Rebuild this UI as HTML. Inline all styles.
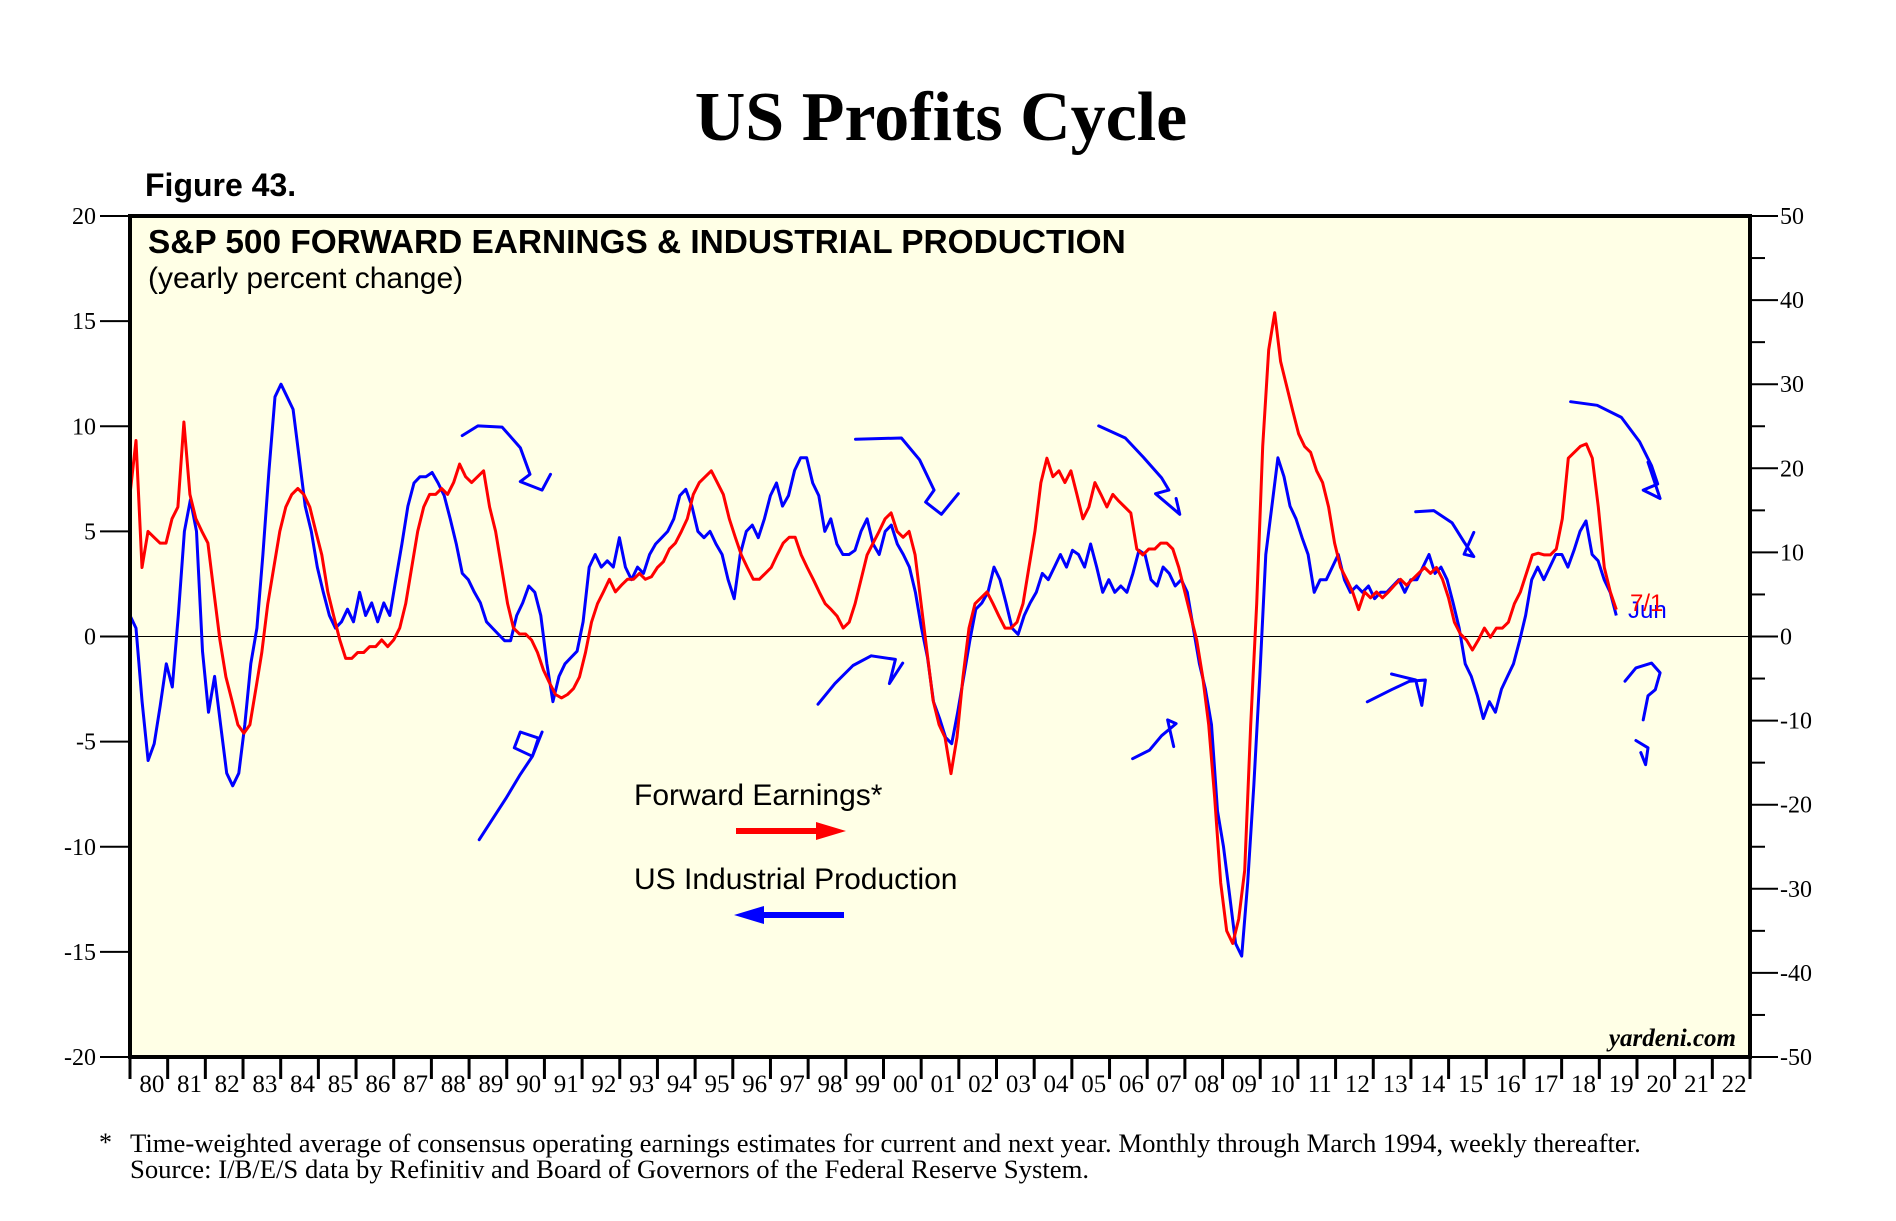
<!DOCTYPE html>
<html><head><meta charset="utf-8"><style>
html,body{margin:0;padding:0;background:#fff;}
svg{display:block;}
</style></head><body>
<svg id="chart" width="1896" height="1221" viewBox="0 0 1896 1221" xmlns="http://www.w3.org/2000/svg">
<text x="941" y="140" text-anchor="middle" font-family="Liberation Serif, serif" font-weight="bold" font-size="70" fill="#000">US Profits Cycle</text>
<text x="145" y="196" font-family="Liberation Sans, sans-serif" font-weight="bold" font-size="32" fill="#000">Figure 43.</text>
<rect x="130" y="216" width="1620" height="841" fill="#ffffe6"/>
<g id="grid"></g>
<g id="series"></g>
<g id="annot" fill="none" stroke="#0000ff" stroke-width="3" stroke-linecap="round" stroke-linejoin="round"></g>
<rect x="130" y="216" width="1620" height="841" fill="none" stroke="#000" stroke-width="4"/>
<g id="axes"></g>
<text x="148" y="253" font-family="Liberation Sans, sans-serif" font-weight="bold" font-size="33.4" fill="#000">S&amp;P 500 FORWARD EARNINGS &amp; INDUSTRIAL PRODUCTION</text>
<text x="148" y="288" font-family="Liberation Sans, sans-serif" font-size="30" fill="#000">(yearly percent change)</text>
<text x="634" y="805" font-family="Liberation Sans, sans-serif" font-size="30" fill="#000">Forward Earnings*</text>
<g><line x1="736" y1="831" x2="820" y2="831" stroke="#ff0000" stroke-width="6"/><polygon points="816,822 846,831 816,840" fill="#ff0000"/></g>
<text x="634" y="889" font-family="Liberation Sans, sans-serif" font-size="30" fill="#000">US Industrial Production</text>
<g><line x1="760" y1="915" x2="844" y2="915" stroke="#0000ff" stroke-width="6"/><polygon points="764,906 734,915 764,924" fill="#0000ff"/></g>
<text x="1736" y="1046" text-anchor="end" font-family="Liberation Serif, serif" font-style="italic" font-weight="bold" font-size="25" fill="#000">yardeni.com</text>
<text x="1628" y="618" font-family="Liberation Sans, sans-serif" font-size="24" fill="#0000ff">Jun</text>
<text x="1630" y="611" font-family="Liberation Sans, sans-serif" font-size="24" fill="#ff0000">7/1</text>
<text x="99" y="1151" font-family="Liberation Serif, serif" font-size="26" fill="#000">*</text>
<text x="130" y="1152" font-family="Liberation Serif, serif" font-size="26.7" fill="#000">Time-weighted average of consensus operating earnings estimates for current and next year. Monthly through March 1994, weekly thereafter.</text>
<text x="130" y="1178" font-family="Liberation Serif, serif" font-size="26.7" fill="#000">Source: I/B/E/S data by Refinitiv and Board of Governors of the Federal Reserve System.</text>
</svg>
<script>
const xStartYear = 1980, xEndYear = 2023;
const leftTicks = [20,15,10,5,0,-5,-10,-15,-20];
const rightTicks = [50,40,30,20,10,0,-10,-20,-30,-40,-50];
const yearLabels = ['80','81','82','83','84','85','86','87','88','89','90','91','92','93','94','95','96','97','98','99','00','01','02','03','04','05','06','07','08','09','10','11','12','13','14','15','16','17','18','19','20','21','22'];
const seriesStart = 1980.0, seriesEnd = 2019.45;
const ipValues = [1.0,0.4,-3.1,-5.9,-5.1,-3.3,-1.3,-2.4,1.0,5.0,6.5,5.0,-0.7,-3.6,-1.9,-4.2,-6.5,-7.1,-6.5,-4.2,-1.3,0.4,3.9,7.9,11.4,12.0,11.4,10.8,8.5,6.2,5.0,3.3,2.1,1.0,0.4,0.7,1.3,0.7,2.1,1.0,1.6,0.7,1.6,1.0,2.7,4.4,6.2,7.3,7.6,7.6,7.8,7.3,6.7,5.6,4.4,3.0,2.7,2.1,1.6,0.7,0.4,0.1,-0.2,-0.2,1.0,1.6,2.4,2.1,1.0,-1.3,-3.1,-1.9,-1.3,-1.0,-0.7,0.7,3.3,3.9,3.3,3.6,3.3,4.7,3.3,2.7,3.3,3.0,3.9,4.4,4.7,5.0,5.6,6.7,7.0,6.2,5.0,4.7,5.0,4.4,3.9,2.7,1.8,3.9,5.0,5.3,4.7,5.6,6.7,7.3,6.2,6.7,7.9,8.5,8.5,7.3,6.7,5.0,5.6,4.4,3.9,3.9,4.1,5.0,5.6,4.4,3.9,5.0,5.3,4.4,3.9,3.3,2.1,0.4,-1.0,-3.1,-3.9,-4.8,-5.1,-3.6,-1.9,-0.2,1.3,1.6,2.1,3.3,2.7,1.6,0.4,0.1,1.0,1.6,2.1,3.0,2.7,3.3,3.9,3.3,4.1,3.9,3.3,4.4,3.3,2.1,2.7,2.1,2.4,2.1,3.0,4.1,3.9,2.7,2.4,3.3,3.0,2.4,2.7,2.1,0.4,-1.3,-2.5,-4.2,-8.3,-10.0,-12.3,-14.6,-15.2,-11.7,-7.1,-1.9,3.9,6.2,8.5,7.6,6.2,5.6,4.7,3.9,2.1,2.7,2.7,3.3,3.9,2.7,2.1,2.4,2.1,2.4,1.8,2.1,2.1,2.4,2.7,2.1,2.7,2.7,3.3,3.9,3.0,3.3,2.7,1.6,0.4,-1.3,-1.9,-2.8,-3.9,-3.1,-3.6,-2.5,-1.9,-1.3,-0.2,1.0,2.7,3.3,2.7,3.3,3.9,3.9,3.3,4.1,5.0,5.5,3.9,3.6,2.7,2.1,1.0];
const feValues = [16.9,23.3,8.2,12.5,11.8,11.1,11.1,14.0,15.4,25.5,16.9,14.0,12.5,11.1,5.3,-0.4,-4.8,-7.6,-10.5,-11.5,-10.5,-6.2,-1.9,3.9,8.2,12.5,15.4,16.9,17.6,16.9,15.4,12.5,9.7,5.3,2.4,-0.4,-2.6,-2.6,-1.9,-1.9,-1.2,-1.2,-0.4,-1.2,-0.4,1.0,3.9,8.2,12.5,15.4,16.9,16.9,17.6,16.9,18.3,20.5,19.0,18.3,19.0,19.7,15.4,12.5,8.2,3.9,1.0,0.3,0.3,-0.4,-1.9,-4.0,-5.5,-6.9,-7.3,-6.9,-6.2,-4.8,-1.9,1.7,3.9,5.3,6.8,5.3,6.1,6.8,6.8,7.5,6.8,7.1,8.2,8.9,10.4,11.1,12.5,14.0,16.9,18.3,19.0,19.7,18.3,16.9,14.0,11.8,9.7,8.2,6.8,6.8,7.5,8.2,9.7,11.1,11.8,11.8,9.7,8.2,6.8,5.3,3.9,3.2,2.4,1.0,1.7,3.9,6.8,9.7,11.1,12.5,14.0,14.7,12.5,11.8,12.5,9.7,3.9,-1.9,-7.6,-10.5,-12.0,-16.3,-12.0,-4.8,1.0,3.9,4.6,5.3,3.9,2.4,1.0,1.0,1.7,3.9,8.2,12.5,18.3,21.2,19.0,19.7,18.3,19.7,16.9,14.0,15.4,18.3,16.9,15.4,16.9,16.1,15.4,14.7,10.4,9.7,10.4,10.4,11.1,11.1,10.4,8.2,5.3,2.4,-0.4,-4.8,-10.5,-19.2,-29.3,-35.0,-36.5,-33.6,-27.8,-10.5,3.9,22.6,34.1,38.5,32.7,29.8,26.9,24.1,22.6,21.9,19.7,18.3,15.4,11.1,8.2,6.8,5.3,3.2,5.3,4.6,5.3,4.6,5.3,6.1,6.8,6.1,6.8,7.5,8.2,7.5,8.2,6.8,4.6,1.7,0.3,-0.4,-1.6,-0.4,1.0,-0.1,1.0,1.0,1.7,3.9,5.3,7.5,9.7,9.9,9.7,9.7,10.4,14.0,21.2,21.9,22.6,22.9,21.2,15.4,8.2,5.3,3.2];

const NS='http://www.w3.org/2000/svg';
const PL=130, PR=1750, PT=216, PB=1057;
const xScale = y => PL + (y - xStartYear) / (xEndYear - xStartYear) * (PR - PL);
const yLeft = v => PT + (20 - v) / 40 * (PB - PT);
const yRight = v => PT + (50 - v) / 100 * (PB - PT);
function mk(tag, attrs, parent){const e=document.createElementNS(NS,tag);for(const k in attrs)e.setAttribute(k,attrs[k]);parent.appendChild(e);return e;}
const axes=document.getElementById('axes'), grid=document.getElementById('grid'), series=document.getElementById('series'), annot=document.getElementById('annot');

const zl = mk('line',{x1:PL,x2:PR,y1:yLeft(0),y2:yLeft(0),stroke:'#000','stroke-width':1},grid);



leftTicks.forEach(v=>{
  const t=mk('line',{x1:PL-30,x2:PL,y1:yLeft(v),y2:yLeft(v),stroke:'#000','stroke-width':2},axes);
  
  
  const l=mk('text',{x:PL-34,y:yLeft(v)+8,'text-anchor':'end','font-family':'Liberation Serif, serif','font-size':24,fill:'#000'},axes);
  l.textContent=v;
  
  
});
for(let v=-45; v<=45; v+=10){
  const t=mk('line',{x1:PR,x2:PR+15,y1:yRight(v),y2:yRight(v),stroke:'#000','stroke-width':2},axes);
  
  
}
rightTicks.forEach(v=>{
  const t=mk('line',{x1:PR,x2:PR+28,y1:yRight(v),y2:yRight(v),stroke:'#000','stroke-width':2},axes);
  
  
  const l=mk('text',{x:PR+30,y:yRight(v)+8,'font-family':'Liberation Serif, serif','font-size':24,fill:'#000'},axes);
  l.textContent=v;
  
  
});
for(let i=0;i<=yearLabels.length;i++){
  const x=xScale(xStartYear+i);
  const t=mk('line',{x1:x,x2:x,y1:PB,y2:PB+22,stroke:'#000','stroke-width':3},axes);
  
  
  if(i<yearLabels.length){
    const l=mk('text',{x:x+(xScale(1)-xScale(0))/2+3,y:PB+35,'text-anchor':'middle','font-family':'Liberation Serif, serif','font-size':25,fill:'#000'},axes);
    l.textContent=yearLabels[i];
    
    
  }
}
function linePath(vals, ys){
  const n=vals.length; let d='';
  vals.forEach((v,i)=>{const yr=seriesStart+(seriesEnd-seriesStart)*i/(n-1);d+=(i?'L':'M')+xScale(yr).toFixed(1)+','+ys(v).toFixed(1);});
  return d;
}
const ipLine=mk('path',{d:linePath(ipValues,yLeft),fill:'none',stroke:'#0000ff','stroke-width':3,'stroke-linejoin':'round'},series);


const feLine=mk('path',{d:linePath(feValues,yRight),fill:'none',stroke:'#ff0000','stroke-width':3,'stroke-linejoin':'round'},series);



const S=1.21;
const scribbles=[
 [[382,360],[395,352],[415,353],[430,370],[438,392],[430,398],[448,405],[455,392]],
 [[396,694],[405,680],[418,660],[430,640],[440,625],[445,610],[430,605],[425,618],[440,625],[448,605]],
 [[707,363],[745,362],[760,380],[772,405],[765,415],[778,425],[792,408]],
 [[676,582],[690,565],[705,550],[720,542],[740,545],[735,565],[746,548]],
 [[908,352],[930,362],[945,378],[960,395],[966,405],[955,408],[975,425],[972,412]],
 [[936,627],[950,620],[960,608],[972,598],[965,595],[970,617]],
 [[1170,423],[1185,422],[1200,432],[1210,448],[1218,460],[1210,458],[1218,440]],
 [[1130,580],[1150,570],[1165,563],[1178,562],[1175,583],[1170,562],[1150,557]],
 [[1298,332],[1320,335],[1340,345],[1355,365],[1365,385],[1370,400],[1358,405],[1372,412],[1362,382]],
 [[1343,563],[1352,552],[1365,548],[1372,556],[1368,570],[1362,575],[1358,595]],
 [[1352,612],[1362,618],[1360,632],[1356,622]]
];
scribbles.forEach(pts=>{
  const p=mk('path',{d:pts.map((q,i)=>(i?'L':'M')+(q[0]*S).toFixed(1)+','+(q[1]*S).toFixed(1)).join('')},annot);
  
  
});
</script>
</body></html>
